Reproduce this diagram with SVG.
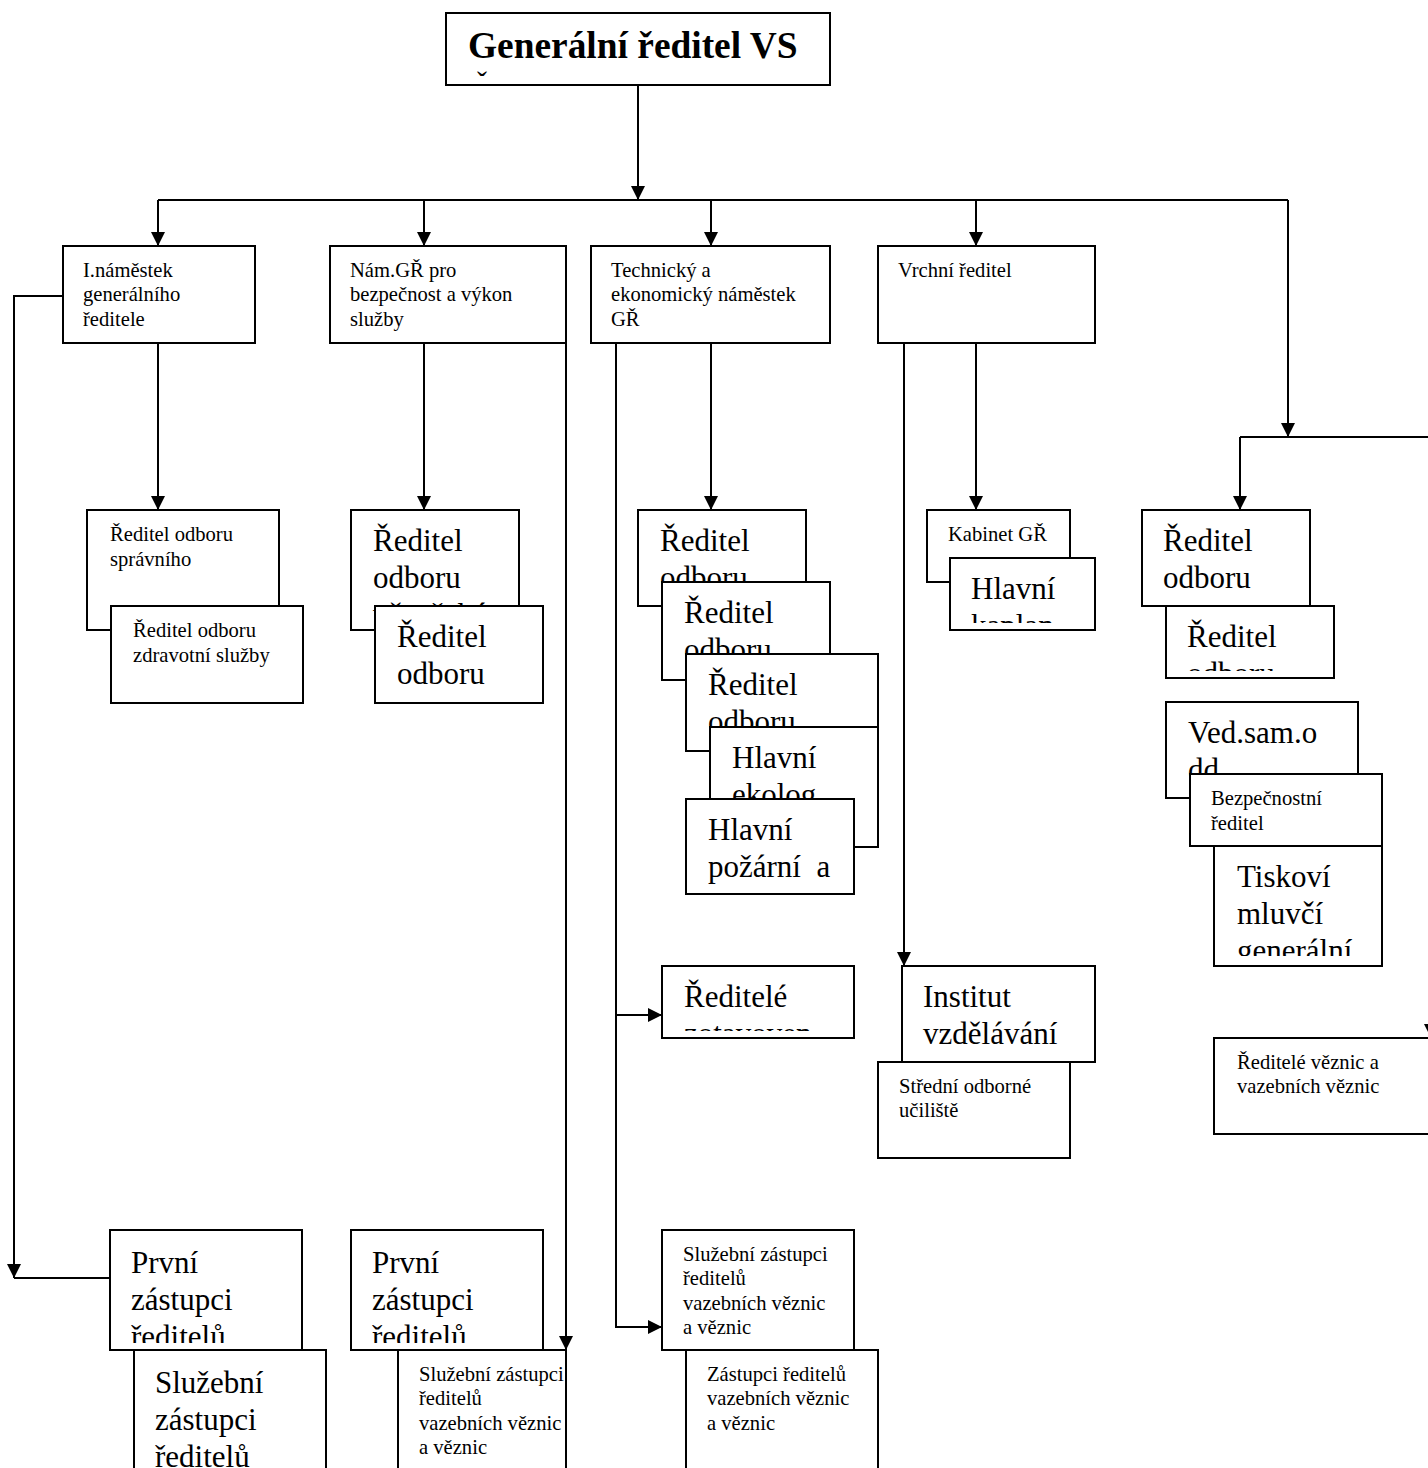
<svg xmlns="http://www.w3.org/2000/svg" width="1428" height="1468" viewBox="0 0 1428 1468">
<style>
.box{fill:#fff;stroke:#000;stroke-width:2}
text{font-family:"Liberation Serif","Times New Roman",serif;fill:#000}
.s{font-size:20.6px}
.b{font-size:31px}
.t{font-size:37.4px;font-weight:bold}
.conn{fill:none;stroke:#000;stroke-width:2}
</style>
<defs>
<marker id="ah" markerWidth="14" markerHeight="14" refX="14" refY="7" orient="auto" markerUnits="userSpaceOnUse"><path d="M0,0 L14,7 L0,14 z" fill="#000"/></marker>
<clipPath id="c-vez"><rect x="352" y="511" width="166" height="118"/></clipPath>
<clipPath id="c-kap"><rect x="951" y="559" width="143" height="64"/></clipPath>
<clipPath id="c-r2"><rect x="1167" y="607" width="166" height="64"/></clipPath>
<clipPath id="c-tis"><rect x="1215" y="847" width="166" height="109"/></clipPath>
<clipPath id="c-zot"><rect x="663" y="967" width="190" height="64"/></clipPath>
<clipPath id="c-p1"><rect x="111" y="1231" width="190" height="112"/></clipPath>
<clipPath id="c-p2"><rect x="352" y="1231" width="190" height="112"/></clipPath>
</defs>

<g id="connectors">
<path class="conn" d="M638,85 V200" marker-end="url(#ah)"/>
<path class="conn" d="M158,200 H1288"/>
<path class="conn" d="M158,200 V246" marker-end="url(#ah)"/>
<path class="conn" d="M424,200 V246" marker-end="url(#ah)"/>
<path class="conn" d="M711,200 V246" marker-end="url(#ah)"/>
<path class="conn" d="M976,200 V246" marker-end="url(#ah)"/>
<path class="conn" d="M1288,200 V437" marker-end="url(#ah)"/>
<path class="conn" d="M1240,437 H1431 V1038" marker-end="url(#ah)"/>
<path class="conn" d="M1240,437 V510" marker-end="url(#ah)"/>
<path class="conn" d="M63,296 H14 V1278" marker-end="url(#ah)"/>
<path class="conn" d="M14,1278 H111"/>
<path class="conn" d="M158,343 V510" marker-end="url(#ah)"/>
<path class="conn" d="M424,343 V510" marker-end="url(#ah)"/>
<path class="conn" d="M566,343 V1350" marker-end="url(#ah)"/>
<path class="conn" d="M711,343 V510" marker-end="url(#ah)"/>
<path class="conn" d="M616,343 V1327 H662" marker-end="url(#ah)"/>
<path class="conn" d="M616,1015 H662" marker-end="url(#ah)"/>
<path class="conn" d="M904,343 V966" marker-end="url(#ah)"/>
<path class="conn" d="M976,343 V510" marker-end="url(#ah)"/>
</g>

<g id="n-gr">
<rect class="box" x="446" y="13" width="384" height="72"/>
<text class="t" x="468" y="58">Generální ředitel VS</text>
<text x="477" y="92" style="font-size:30px">ˇ</text>
</g>

<g id="n-nam1">
<rect class="box" x="63" y="246" width="192" height="97"/>
<text class="s"><tspan x="83" y="277">I.náměstek</tspan><tspan x="83" y="301">generálního</tspan><tspan x="83" y="326">ředitele</tspan></text>
</g>
<g id="n-nam2">
<rect class="box" x="330" y="246" width="236" height="97"/>
<text class="s"><tspan x="350" y="277">Nám.GŘ pro</tspan><tspan x="350" y="301">bezpečnost a výkon</tspan><tspan x="350" y="326">služby</tspan></text>
</g>
<g id="n-nam3">
<rect class="box" x="591" y="246" width="239" height="97"/>
<text class="s"><tspan x="611" y="277">Technický a</tspan><tspan x="611" y="301">ekonomický náměstek</tspan><tspan x="611" y="326">GŘ</tspan></text>
</g>
<g id="n-vrchni">
<rect class="box" x="878" y="246" width="217" height="97"/>
<text class="s" x="898" y="277">Vrchní ředitel</text>
</g>

<g id="n-spravni">
<rect class="box" x="87" y="510" width="192" height="120"/>
<text class="s"><tspan x="110" y="541">Ředitel odboru</tspan><tspan x="110" y="566">správního</tspan></text>
</g>
<g id="n-zdrav">
<rect class="box" x="111" y="606" width="192" height="97"/>
<text class="s"><tspan x="133" y="637">Ředitel odboru</tspan><tspan x="133" y="662">zdravotní služby</tspan></text>
</g>

<g id="n-vezenske">
<rect class="box" x="351" y="510" width="168" height="120"/>
<text class="b" clip-path="url(#c-vez)"><tspan x="373" y="551">Ředitel</tspan><tspan x="373" y="588">odboru</tspan><tspan x="373" y="625">vězeňské</tspan></text>
</g>
<g id="n-odb2">
<rect class="box" x="375" y="606" width="168" height="97"/>
<text class="b"><tspan x="397" y="647">Ředitel</tspan><tspan x="397" y="684">odboru</tspan></text>
</g>

<g id="n-t1">
<rect class="box" x="638" y="510" width="168" height="96"/>
<text class="b"><tspan x="660" y="551">Ředitel</tspan><tspan x="660" y="588">odboru</tspan></text>
</g>
<g id="n-t2">
<rect class="box" x="662" y="582" width="168" height="98"/>
<text class="b"><tspan x="684" y="623">Ředitel</tspan><tspan x="684" y="660">odboru</tspan></text>
</g>
<g id="n-t3">
<rect class="box" x="686" y="654" width="192" height="97"/>
<text class="b"><tspan x="708" y="695">Ředitel</tspan><tspan x="708" y="732">odboru</tspan></text>
</g>
<g id="n-t4">
<rect class="box" x="710" y="727" width="168" height="120"/>
<text class="b"><tspan x="732" y="768">Hlavní</tspan><tspan x="732" y="805">ekolog</tspan></text>
</g>
<g id="n-t5">
<rect class="box" x="686" y="799" width="168" height="95"/>
<text class="b"><tspan x="708" y="840">Hlavní</tspan><tspan x="708" y="877" xml:space="preserve">požární  a</tspan></text>
</g>

<g id="n-kabinet">
<rect class="box" x="927" y="510" width="143" height="72"/>
<text class="s" x="948" y="541">Kabinet GŘ</text>
</g>
<g id="n-kaplan">
<rect class="box" x="950" y="558" width="145" height="72"/>
<text class="b" clip-path="url(#c-kap)"><tspan x="971" y="599">Hlavní</tspan><tspan x="971" y="636">kaplan</tspan></text>
</g>

<g id="n-r1">
<rect class="box" x="1142" y="510" width="168" height="96"/>
<text class="b"><tspan x="1163" y="551">Ředitel</tspan><tspan x="1163" y="588">odboru</tspan></text>
</g>
<g id="n-r2">
<rect class="box" x="1166" y="606" width="168" height="72"/>
<text class="b" clip-path="url(#c-r2)"><tspan x="1187" y="647">Ředitel</tspan><tspan x="1187" y="684">odboru</tspan></text>
</g>
<g id="n-ved">
<rect class="box" x="1166" y="702" width="192" height="96"/>
<text class="b"><tspan x="1188" y="743">Ved.sam.o</tspan><tspan x="1188" y="780">dd.</tspan></text>
</g>
<g id="n-bezp">
<rect class="box" x="1190" y="774" width="192" height="72"/>
<text class="s"><tspan x="1211" y="805">Bezpečnostní</tspan><tspan x="1211" y="830">ředitel</tspan></text>
</g>
<g id="n-tisk">
<rect class="box" x="1214" y="846" width="168" height="120"/>
<text class="b" clip-path="url(#c-tis)"><tspan x="1237" y="887">Tiskoví</tspan><tspan x="1237" y="924">mluvčí</tspan><tspan x="1237" y="961">generální</tspan></text>
</g>
<g id="n-rvez">
<rect class="box" x="1214" y="1038" width="230" height="96"/>
<text class="s"><tspan x="1237" y="1069">Ředitelé věznic a</tspan><tspan x="1237" y="1093">vazebních věznic</tspan></text>
</g>

<g id="n-zot">
<rect class="box" x="662" y="966" width="192" height="72"/>
<text class="b" clip-path="url(#c-zot)"><tspan x="684" y="1007">Ředitelé</tspan><tspan x="684" y="1044">zotavoven</tspan></text>
</g>
<g id="n-inst">
<rect class="box" x="902" y="966" width="193" height="96"/>
<text class="b"><tspan x="923" y="1007">Institut</tspan><tspan x="923" y="1044">vzdělávání</tspan></text>
</g>
<g id="n-sou">
<rect class="box" x="878" y="1062" width="192" height="96"/>
<text class="s"><tspan x="899" y="1093">Střední odborné</tspan><tspan x="899" y="1117">učiliště</tspan></text>
</g>

<g id="n-prv1">
<rect class="box" x="110" y="1230" width="192" height="120"/>
<text class="b" clip-path="url(#c-p1)"><tspan x="131" y="1273">První</tspan><tspan x="131" y="1310">zástupci</tspan><tspan x="131" y="1347">ředitelů</tspan></text>
</g>
<g id="n-sluz1">
<rect class="box" x="134" y="1350" width="192" height="130"/>
<text class="b"><tspan x="155" y="1393">Služební</tspan><tspan x="155" y="1430">zástupci</tspan><tspan x="155" y="1467">ředitelů</tspan></text>
</g>
<g id="n-prv2">
<rect class="box" x="351" y="1230" width="192" height="120"/>
<text class="b" clip-path="url(#c-p2)"><tspan x="372" y="1273">První</tspan><tspan x="372" y="1310">zástupci</tspan><tspan x="372" y="1347">ředitelů</tspan></text>
</g>
<g id="n-sluz2">
<rect class="box" x="398" y="1350" width="168" height="130"/>
<text class="s"><tspan x="419" y="1381">Služební zástupci</tspan><tspan x="419" y="1405">ředitelů</tspan><tspan x="419" y="1430">vazebních věznic</tspan><tspan x="419" y="1454">a věznic</tspan></text>
</g>
<g id="n-sluz3">
<rect class="box" x="662" y="1230" width="192" height="120"/>
<text class="s"><tspan x="683" y="1261">Služební zástupci</tspan><tspan x="683" y="1285">ředitelů</tspan><tspan x="683" y="1310">vazebních věznic</tspan><tspan x="683" y="1334">a věznic</tspan></text>
</g>
<g id="n-zast">
<rect class="box" x="686" y="1350" width="192" height="130"/>
<text class="s"><tspan x="707" y="1381">Zástupci ředitelů</tspan><tspan x="707" y="1405">vazebních věznic</tspan><tspan x="707" y="1430">a věznic</tspan></text>
</g>
</svg>
